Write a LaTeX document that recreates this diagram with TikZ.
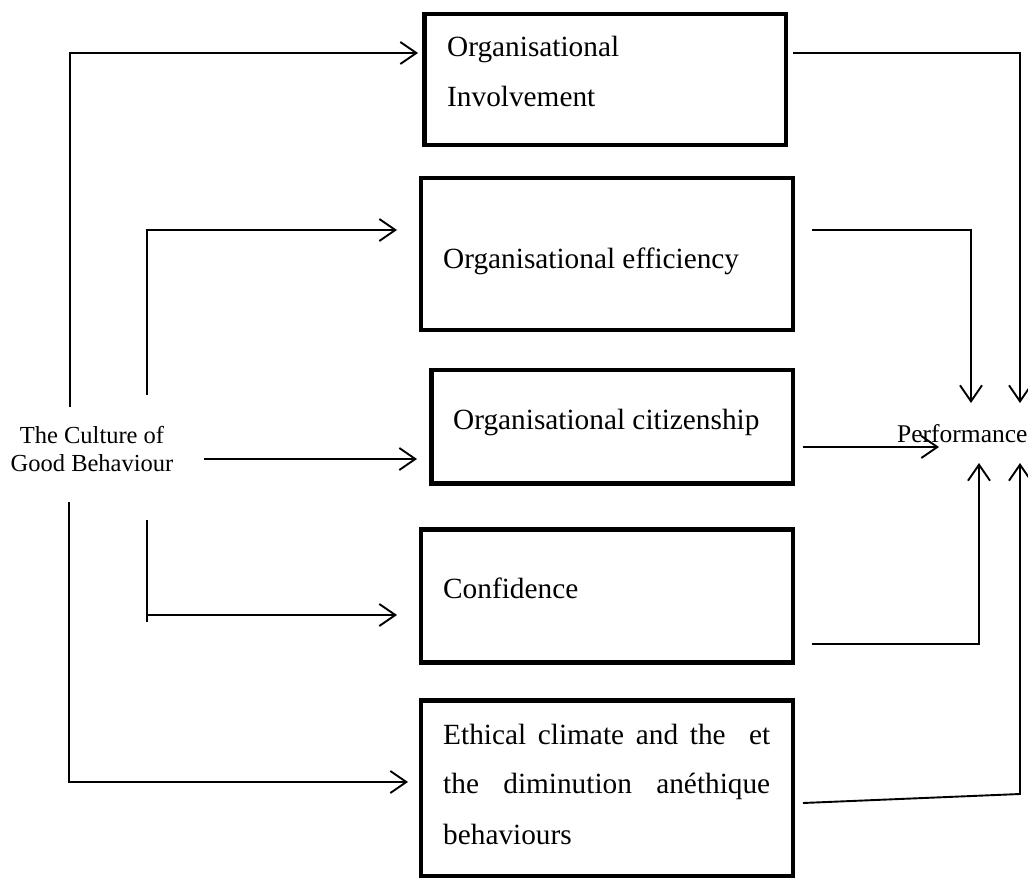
\documentclass[tikz,border=0pt]{standalone}
\usepackage{fontspec}
\setmainfont{Liberation Serif}
\usetikzlibrary{arrows.meta}
\begin{document}
\begin{tikzpicture}[x=1pt,y=-1pt,
  box/.style={draw, line width=4.8pt, rectangle, inner sep=0pt, outer sep=0pt},
  boxtext/.style={anchor=base west, inner sep=0pt, font=\fontsize{29.3}{34}\selectfont},
  sidetext/.style={inner sep=0pt, font=\fontsize{24.5}{28}\selectfont},
  conn/.style={line width=1.9pt, -{Straight Barb[length=16pt,width=22pt]}},
  plainline/.style={line width=1.9pt}]
\useasboundingbox[fill=white] (0,0) rectangle (1028,880);

% boxes
\node[box, minimum width=361.5pt, minimum height=131pt] (b1) at (605.25,79.5) {};
\node[box, minimum width=372pt, minimum height=152pt] (b2) at (607,254) {};
\node[box, minimum width=361.5pt, minimum height=113.5pt] (b3) at (612.25,426.75) {};
\node[box, minimum width=372pt, minimum height=133pt] (b4) at (607,596) {};
\node[box, minimum width=372pt, minimum height=175.5pt] (b5) at (607,788.25) {};

% box texts
\node[boxtext] (t1a) at (447,57) {Organisational};
\node[boxtext] (t1b) at (447,107) {Involvement};
\node[boxtext] (t2) at (443,268) {Organisational efficiency};
\node[boxtext] (t3) at (453,429) {Organisational citizenship};
\node[boxtext] (t4) at (443,598) {Confidence};
\node[boxtext] (t5a) at (443,744) {\makebox[327pt][s]{Ethical climate and the\ \ et}};
\node[boxtext] (t5b) at (443,793) {\makebox[327pt][s]{the diminution anéthique}};
\node[boxtext] (t5c) at (443,844) {behaviours};

% source and target
\node[sidetext, align=center] (src) at (92,449) {The Culture of\\Good Behaviour};
\node[sidetext, anchor=base west, font=\fontsize{25.5}{28}\selectfont] (perf) at (897,442) {Performance};

% left connector end points
\coordinate (a1s) at (70,407);  \coordinate (a1e) at (418,53);
\coordinate (a2s) at (147,395); \coordinate (a2e) at (397,230);
\coordinate (a3s) at (204,459); \coordinate (a3e) at (417,459);
\coordinate (a4s) at (147,520); \coordinate (a4e) at (397,615); \coordinate (a4t) at (147,622);
\coordinate (a5s) at (69,502);  \coordinate (a5e) at (408,782);

\draw[conn] (a1s) |- (a1e);
\draw[conn] (a2s) |- (a2e);
\draw[conn] (a3s) -- (a3e);
\draw[conn] (a4s) |- (a4e);
\draw[plainline] (a4s) -- (a4t);
\draw[conn] (a5s) |- (a5e);

% right connector end points
\coordinate (c1s) at (793,53);  \coordinate (p1) at (1020,403);
\coordinate (c2s) at (812,230); \coordinate (p2) at (971,403);
\coordinate (c3s) at (803,447); \coordinate (p3) at (939,447);
\coordinate (c4s) at (812,644); \coordinate (p4) at (979,463);
\coordinate (c5s) at (803,803); \coordinate (c5c) at (1020,794); \coordinate (p5) at (1020,463);

\draw[conn] (c1s) -| (p1);
\draw[conn] (c2s) -| (p2);
\draw[conn] (c3s) -- (p3);
\draw[conn] (c4s) -| (p4);
\draw[conn] (c5s) -- (c5c) -- (p5);
\end{tikzpicture}
\end{document}
